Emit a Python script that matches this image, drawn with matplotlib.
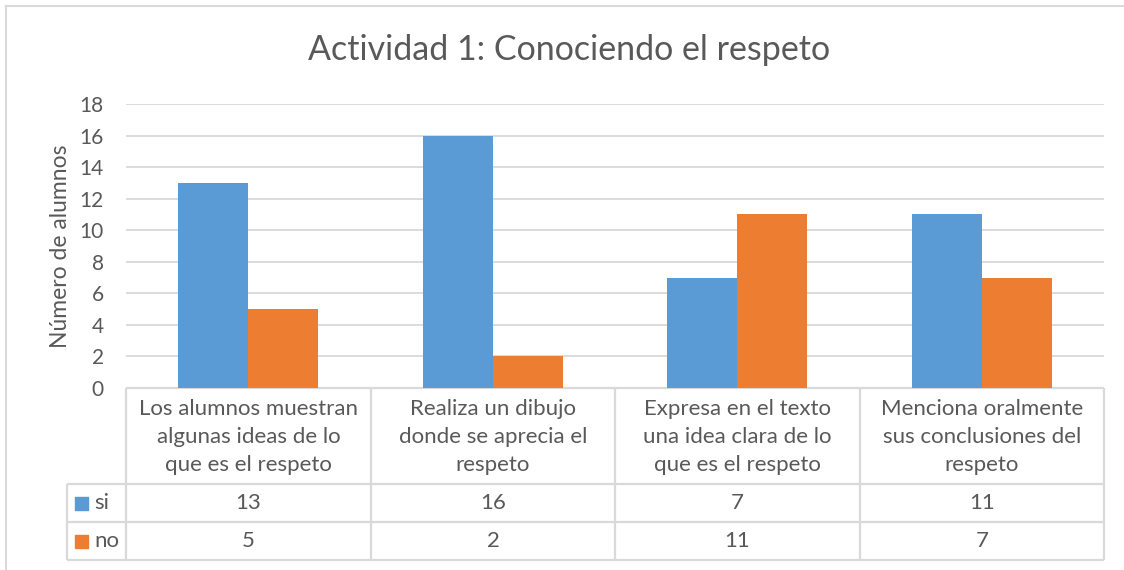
import matplotlib.pyplot as plt
import numpy as np

plt.rcParams['font.family'] = ['Lato', 'DejaVu Sans']

# Datos de la actividad
titulo = "Actividad 1: Conociendo el respeto"
categorias = [
    "Los alumnos muestran\nalgunas ideas de lo\nque es el respeto",
    "Realiza un dibujo\ndonde se aprecia el\nrespeto",
    "Expresa en el texto\nuna idea clara de lo\nque es el respeto",
    "Menciona oralmente\nsus conclusiones del\nrespeto",
]
series = ["si", "no"]
valores_si = [13, 16, 7, 11]
valores_no = [5, 2, 11, 7]
yticks = [0, 2, 4, 6, 8, 10, 12, 14, 16, 18]

azul = "#5B9BD5"
naranja = "#ED7D31"
gris_txt = "#595959"
gris_lin = "#D9D9D9"

W, H = 1124, 570
fig = plt.figure(figsize=(W / 100, H / 100), dpi=100)

# capa de fondo en pixeles para bordes y tabla
capa = fig.add_axes([0, 0, 1, 1])
capa.set_xlim(0, W)
capa.set_ylim(H, 0)
capa.axis("off")

# area de barras
x0, x1, ytop, ybot = 126, 1104, 104, 388
ax = fig.add_axes([x0 / W, 1 - ybot / H, (x1 - x0) / W, (ybot - ytop) / H])
x = np.arange(len(categorias))
ancho = 0.286
ax.bar(x - ancho / 2, valores_si, ancho, color=azul, zorder=3)
ax.bar(x + ancho / 2, valores_no, ancho, color=naranja, zorder=3)
ax.set_xlim(-0.5, len(categorias) - 0.5)
ax.set_ylim(0, 18)
ax.set_yticks(yticks)
ax.set_xticks([])
ax.yaxis.grid(True, color=gris_lin, linewidth=1.3, zorder=0)
for s in ax.spines.values():
    s.set_visible(False)
ax.tick_params(axis="y", length=0, pad=16, labelsize=15, labelcolor=gris_txt)
ax.set_ylabel("Número de alumnos", fontsize=16.5, color=gris_txt, labelpad=6)
ax.patch.set_alpha(0)

# titulo
fig.text(569 / W, 1 - 50 / H, titulo, ha="center", va="center",
         fontsize=24.5, color=gris_txt)

# borde del grafico
capa.plot([6, 6], [H, 6], color=gris_lin, lw=1.5)
capa.plot([6, W], [6, 6], color=gris_lin, lw=1.5)

# tabla de datos
cols = [126, 371, 615, 860, 1104]
xleg = 67
filas = [388, 484, 522, 560]
kw = dict(color=gris_lin, lw=1.6, solid_capstyle="butt")
capa.plot([cols[0], cols[-1]], [filas[0], filas[0]], **kw)
for yf in filas[1:]:
    capa.plot([xleg, cols[-1]], [yf, yf], **kw)
for xc in cols:
    capa.plot([xc, xc], [filas[0], filas[-1]], **kw)
capa.plot([xleg, xleg], [filas[1], filas[-1]], **kw)

for i, cat in enumerate(categorias):
    cx = (cols[i] + cols[i + 1]) / 2
    capa.text(cx, (filas[0] + filas[1]) / 2 + 1, cat, ha="center", va="center",
              fontsize=16, color=gris_txt, linespacing=1.5)

colores = [azul, naranja]
for j, (nombre, vals) in enumerate(zip(series, [valores_si, valores_no])):
    cy = (filas[j + 1] + filas[j + 2]) / 2
    capa.add_patch(plt.Rectangle((75, cy - 6), 13, 13, color=colores[j]))
    capa.text(94, cy, nombre, ha="left", va="center", fontsize=16, color=gris_txt)
    for i, v in enumerate(vals):
        cx = (cols[i] + cols[i + 1]) / 2
        capa.text(cx, cy, str(v), ha="center", va="center",
                  fontsize=16, color=gris_txt)

fig.savefig("out.png", dpi=100)
